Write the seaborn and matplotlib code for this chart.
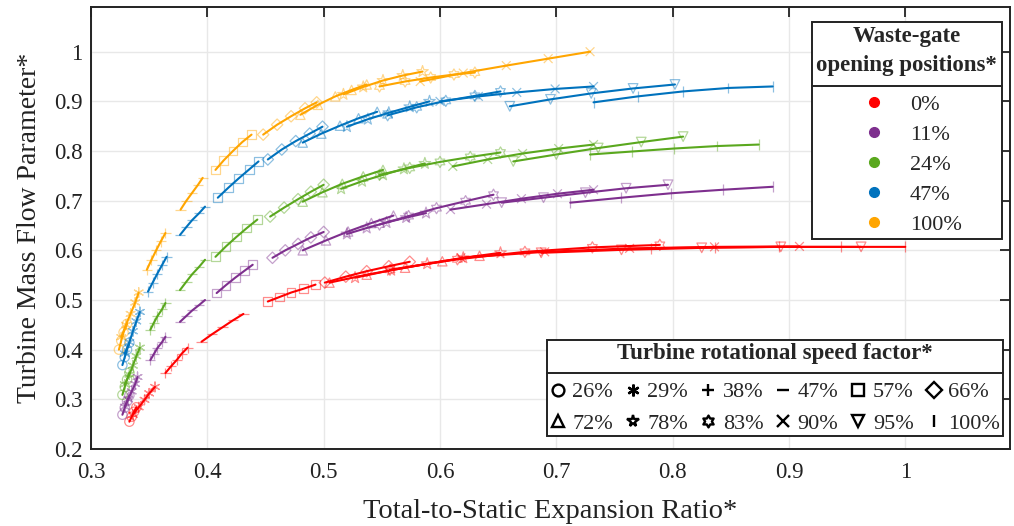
import numpy as np
import pandas as pd
import matplotlib
matplotlib.use("Agg")
import matplotlib.pyplot as plt
import seaborn as sns
from matplotlib.lines import Line2D
from matplotlib.path import Path
from matplotlib.colors import to_rgba

# ---------------- data ----------------
wg_labels = ['0%', '11%', '24%', '47%', '100%']
wg_colors = ['#FF0000', '#7E2F8E', '#5AA81E', '#0072BD', '#FFA500']
speed_labels = ['26%', '29%', '38%', '47%', '57%', '66%', '72%', '78%', '83%', '90%', '95%', '100%']

x_ticks = [0.3, 0.4, 0.5, 0.6, 0.7, 0.8, 0.9, 1.0]
x_tick_labels = ['0.3', '0.4', '0.5', '0.6', '0.7', '0.8', '0.9', '1']
y_ticks = [0.2, 0.3, 0.4, 0.5, 0.6, 0.7, 0.8, 0.9, 1.0]
y_tick_labels = ['0.2', '0.3', '0.4', '0.5', '0.6', '0.7', '0.8', '0.9', '1']

# Waste-gate 0 %  (one list per speed factor)
wg0_x = [[0.333, 0.335, 0.337, 0.339],
         [0.336, 0.341, 0.346, 0.350, 0.355],
         [0.364, 0.369, 0.374, 0.378, 0.383],
         [0.395, 0.404, 0.413, 0.422, 0.431],
         [0.452, 0.462, 0.472, 0.483, 0.493],
         [0.501, 0.519, 0.537, 0.556, 0.574],
         [0.505, 0.537, 0.570, 0.602, 0.634],
         [0.527, 0.558, 0.589, 0.620, 0.652],
         [0.557, 0.615, 0.673, 0.731, 0.789],
         [0.618, 0.690, 0.763, 0.836, 0.909],
         [0.687, 0.756, 0.825, 0.893, 0.962],
         [0.781, 0.836, 0.891, 0.945, 1.000]]
wg0_y = [[0.255, 0.265, 0.275, 0.284],
         [0.269, 0.284, 0.299, 0.312, 0.325],
         [0.353, 0.367, 0.380, 0.392, 0.404],
         [0.416, 0.431, 0.445, 0.459, 0.472],
         [0.497, 0.506, 0.515, 0.523, 0.531],
         [0.535, 0.547, 0.558, 0.568, 0.577],
         [0.535, 0.551, 0.565, 0.578, 0.589],
         [0.545, 0.560, 0.573, 0.585, 0.595],
         [0.561, 0.582, 0.597, 0.606, 0.611],
         [0.585, 0.597, 0.604, 0.607, 0.608],
         [0.595, 0.601, 0.605, 0.607, 0.607],
         [0.604, 0.606, 0.607, 0.607, 0.607]]

# Waste-gate 11 %
wg11_x = [[0.327, 0.329, 0.331, 0.333],
          [0.329, 0.332, 0.335, 0.338, 0.340],
          [0.351, 0.354, 0.357, 0.361, 0.364],
          [0.3765, 0.382, 0.387, 0.393, 0.398],
          [0.408, 0.416, 0.424, 0.432, 0.439],
          [0.456, 0.467, 0.478, 0.489, 0.500],
          [0.482, 0.502, 0.521, 0.541, 0.560],
          [0.520, 0.537, 0.554, 0.571, 0.588],
          [0.548, 0.573, 0.597, 0.622, 0.646],
          [0.609, 0.640, 0.670, 0.701, 0.732],
          [0.653, 0.689, 0.725, 0.760, 0.796],
          [0.712, 0.756, 0.799, 0.843, 0.886]]
wg11_y = [[0.269, 0.283, 0.296, 0.308],
          [0.285, 0.300, 0.316, 0.331, 0.345],
          [0.379, 0.391, 0.403, 0.415, 0.426],
          [0.456, 0.468, 0.479, 0.490, 0.500],
          [0.514, 0.530, 0.545, 0.559, 0.571],
          [0.585, 0.600, 0.613, 0.626, 0.637],
          [0.600, 0.620, 0.638, 0.655, 0.670],
          [0.633, 0.645, 0.656, 0.666, 0.675],
          [0.652, 0.669, 0.685, 0.699, 0.712],
          [0.682, 0.693, 0.704, 0.714, 0.722],
          [0.696, 0.706, 0.716, 0.725, 0.732],
          [0.696, 0.706, 0.715, 0.722, 0.728]]

# Waste-gate 24 %
wg24_x = [[0.327, 0.329, 0.331, 0.333],
          [0.329, 0.333, 0.336, 0.339, 0.342],
          [0.351, 0.354, 0.357, 0.361, 0.364],
          [0.3765, 0.382, 0.387, 0.393, 0.398],
          [0.407, 0.416, 0.425, 0.434, 0.443],
          [0.454, 0.466, 0.478, 0.489, 0.500],
          [0.482, 0.499, 0.516, 0.534, 0.551],
          [0.515, 0.533, 0.551, 0.569, 0.587],
          [0.548, 0.574, 0.600, 0.626, 0.652],
          [0.611, 0.641, 0.671, 0.702, 0.732],
          [0.663, 0.700, 0.736, 0.773, 0.809],
          [0.729, 0.765, 0.801, 0.838, 0.874]]
wg24_y = [[0.309, 0.325, 0.340, 0.354],
          [0.330, 0.350, 0.368, 0.387, 0.404],
          [0.440, 0.454, 0.467, 0.481, 0.494],
          [0.520, 0.537, 0.552, 0.567, 0.581],
          [0.587, 0.608, 0.627, 0.645, 0.662],
          [0.668, 0.686, 0.703, 0.718, 0.732],
          [0.698, 0.717, 0.734, 0.749, 0.762],
          [0.724, 0.739, 0.752, 0.764, 0.775],
          [0.752, 0.766, 0.778, 0.788, 0.797],
          [0.769, 0.783, 0.795, 0.805, 0.813],
          [0.779, 0.793, 0.806, 0.818, 0.829],
          [0.793, 0.799, 0.805, 0.810, 0.813]]

# Waste-gate 47 %
wg47_x = [[0.327, 0.329, 0.331, 0.333],
          [0.329, 0.333, 0.336, 0.339, 0.342],
          [0.349, 0.353, 0.357, 0.361, 0.365],
          [0.3765, 0.382, 0.387, 0.393, 0.398],
          [0.409, 0.418, 0.427, 0.436, 0.444],
          [0.452, 0.464, 0.476, 0.488, 0.499],
          [0.482, 0.498, 0.514, 0.530, 0.546],
          [0.520, 0.538, 0.556, 0.574, 0.591],
          [0.555, 0.580, 0.605, 0.630, 0.652],
          [0.600, 0.633, 0.666, 0.699, 0.732],
          [0.660, 0.695, 0.730, 0.766, 0.802],
          [0.732, 0.770, 0.809, 0.848, 0.886]]
wg47_y = [[0.369, 0.385, 0.400, 0.414],
          [0.392, 0.415, 0.437, 0.457, 0.476],
          [0.517, 0.535, 0.553, 0.570, 0.587],
          [0.631, 0.647, 0.661, 0.675, 0.688],
          [0.706, 0.726, 0.745, 0.763, 0.779],
          [0.783, 0.803, 0.820, 0.835, 0.849],
          [0.817, 0.835, 0.851, 0.866, 0.879],
          [0.849, 0.864, 0.877, 0.889, 0.900],
          [0.872, 0.888, 0.901, 0.911, 0.920],
          [0.900, 0.910, 0.918, 0.925, 0.930],
          [0.890, 0.904, 0.916, 0.926, 0.934],
          [0.898, 0.910, 0.920, 0.927, 0.930]]

# Waste-gate 100 %  (no 95 % / 100 % speed data)
wg100_x = [[0.324, 0.326, 0.328, 0.331],
           [0.326, 0.330, 0.334, 0.338, 0.341],
           [0.348, 0.352, 0.356, 0.360, 0.364],
           [0.377, 0.382, 0.387, 0.392, 0.396],
           [0.407, 0.414, 0.422, 0.430, 0.438],
           [0.448, 0.460, 0.472, 0.484, 0.494],
           [0.480, 0.495, 0.510, 0.524, 0.537],
           [0.517, 0.534, 0.551, 0.568, 0.585],
           [0.548, 0.570, 0.592, 0.612, 0.630],
           [0.583, 0.620, 0.657, 0.693, 0.729],
           [],
           []]
wg100_y = [[0.400, 0.418, 0.435, 0.452],
           [0.425, 0.450, 0.472, 0.495, 0.515],
           [0.561, 0.581, 0.600, 0.618, 0.635],
           [0.682, 0.700, 0.716, 0.732, 0.746],
           [0.762, 0.781, 0.800, 0.818, 0.833],
           [0.833, 0.853, 0.870, 0.886, 0.898],
           [0.873, 0.893, 0.910, 0.923, 0.934],
           [0.914, 0.929, 0.942, 0.952, 0.960],
           [0.930, 0.940, 0.948, 0.954, 0.958],
           [0.940, 0.957, 0.972, 0.986, 1.000],
           [],
           []]

all_x = [wg0_x, wg11_x, wg24_x, wg47_x, wg100_x]
all_y = [wg0_y, wg11_y, wg24_y, wg47_y, wg100_y]

rows = []
for wi in range(len(wg_labels)):
    for si in range(len(speed_labels)):
        for xv, yv in zip(all_x[wi][si], all_y[wi][si]):
            rows.append(dict(x=xv, y=yv, wg=wg_labels[wi], speed=speed_labels[si],
                             seg=f"{wi}-{si}"))
df = pd.DataFrame(rows)

# ---------------- style ----------------
sns.set_theme(style="white")
plt.rcParams['font.family'] = ['Liberation Serif', 'DejaVu Serif']

_ang = np.linspace(np.pi / 2, np.pi / 2 + 2 * np.pi, 13)[:-1]
_rad = np.array([1.0, 0.577] * 6)
_verts = np.column_stack([_rad * np.cos(_ang), _rad * np.sin(_ang)])
_verts = np.vstack([_verts, _verts[:1]])
hexagram = Path(_verts, [Path.MOVETO] + [Path.LINETO] * 11 + [Path.CLOSEPOLY])

speed_markers = ['o', (6, 2, 0), '+', '_', 's', 'D', '^', '*', hexagram, 'x', 'v', '|']
speed_sizes = [45, 50, 55, 55, 40, 34, 45, 75, 65, 40, 48, 60]

palette = dict(zip(wg_labels, wg_colors))

fig = plt.figure(figsize=(10.14, 5.26), dpi=100)
ax = fig.add_axes([91 / 1014, 77 / 526, 919 / 1014, 442 / 526])

# markers (hollow, light)
for si, sp in enumerate(speed_labels):
    sub = df[df.speed == sp]
    if sub.empty:
        continue
    n_before = len(ax.collections)
    sns.scatterplot(data=sub, x='x', y='y', hue='wg', palette=palette,
                    marker=speed_markers[si], s=speed_sizes[si], legend=False,
                    ax=ax, zorder=2)
    coll = ax.collections[n_before]
    cols = [to_rgba(palette[w], 0.45) for w in sub.wg]
    coll.set_facecolors('none')
    coll.set_edgecolors(cols)
    coll.set_linewidths(0.9)

# fitted lines
sns.lineplot(data=df, x='x', y='y', hue='wg', units='seg', estimator=None,
             sort=False, palette=palette, legend=False, lw=1.5, ax=ax, zorder=3)

ax.set_xlim(0.3, 1.09)
ax.set_ylim(0.2, 1.09)
ax.set_xticks(x_ticks)
ax.set_xticklabels(x_tick_labels)
ax.set_yticks(y_ticks)
ax.set_yticklabels(y_tick_labels)
ax.tick_params(direction='in', top=True, right=True, length=7, width=1.3,
               labelsize=16.5, colors='#222222')
ax.tick_params(axis='x', pad=9)
ax.tick_params(axis='y', pad=6)
ax.grid(True, color='#e8e8e8', lw=1.0)
ax.set_axisbelow(True)
for s in ax.spines.values():
    s.set_color('#222222')
    s.set_linewidth(1.4)
ax.set_xlabel('Total-to-Static Expansion Ratio*', fontsize=20.5, color='#222222', labelpad=12)
ax.set_ylabel('Turbine Mass Flow Parameter*', fontsize=20, color='#222222', labelpad=9)

# legend 1: waste-gate
h1 = [Line2D([], [], marker='o', color=c, ls='none', markersize=7) for c in wg_colors]
leg1 = ax.legend(h1, wg_labels, title='Waste-gate\nopening positions*',
                 loc='upper right', bbox_to_anchor=(0.991, 0.966), borderaxespad=0,
                 fontsize=16, title_fontsize=16.5, frameon=True, fancybox=False,
                 edgecolor='#222222', framealpha=1, labelspacing=0.42,
                 handletextpad=0.6, borderpad=0.2, alignment='center')
leg1.get_title().set_fontweight('bold')
leg1.get_title().set_multialignment('center')
leg1.get_title().set_linespacing(1.5)
leg1._legend_box.sep = 13
leg1.get_frame().set_linewidth(1.4)
ax.add_artist(leg1)

# legend 2: speed
order = [0, 6, 1, 7, 2, 8, 3, 9, 4, 10, 5, 11]
h2 = [Line2D([], [], marker=speed_markers[i], color='black', ls='none',
             markerfacecolor='none', markeredgewidth=1.7, markersize=8.5) for i in order]
l2 = [speed_labels[i] for i in order]
leg2 = ax.legend(h2, l2, title='Turbine rotational speed factor*', ncol=6,
                 loc='lower right', bbox_to_anchor=(0.992, 0.029), borderaxespad=0,
                 fontsize=16, title_fontsize=16.5, frameon=True, fancybox=False,
                 edgecolor='#222222', framealpha=1, labelspacing=0.48,
                 handlelength=0.7, handletextpad=0.3, columnspacing=0.55,
                 borderpad=0.12, alignment='center')
leg2.get_title().set_fontweight('bold')
leg2._legend_box.sep = 13
leg2.get_frame().set_linewidth(1.4)

fig.canvas.draw()
W, H = fig.bbox.width, fig.bbox.height
for leg in (leg1, leg2):
    fb = leg.get_frame().get_window_extent()
    tb = leg.get_title().get_window_extent()
    hb = leg._legend_handle_box.get_window_extent()
    ysep = 0.5 * (tb.y0 + hb.y1)
    fig.add_artist(Line2D([fb.x0 / W, fb.x1 / W], [ysep / H, ysep / H],
                          transform=fig.transFigure, color='#222222', lw=1.4))

fig.savefig('out.png', dpi=100)
